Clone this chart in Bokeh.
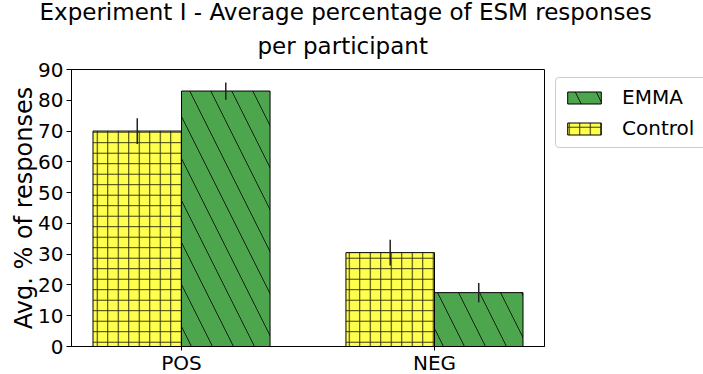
from bokeh.plotting import figure
from bokeh.layouts import row
from bokeh.models import Range1d, FixedTicker, Legend, LegendItem, Title, ColumnDataSource, Spacer
from bokeh.embed import file_html
from bokeh.resources import INLINE

categories = ["POS", "NEG"]
control_vals = [70.0, 30.5]
control_err = [4.2, 4.2]
emma_vals = [83.0, 17.5]
emma_err = [2.8, 3.1]
y_ticks = [0, 10, 20, 30, 40, 50, 60, 70, 80, 90]

bar_w = 0.35
FONT = "DejaVu Sans"

idx = list(range(len(categories)))
x_ctrl = [i - bar_w / 2 for i in idx]
x_emma = [i + bar_w / 2 for i in idx]

src_c = ColumnDataSource(dict(x=x_ctrl, top=control_vals,
                              lo=[v - e for v, e in zip(control_vals, control_err)],
                              hi=[v + e for v, e in zip(control_vals, control_err)]))
src_e = ColumnDataSource(dict(x=x_emma, top=emma_vals,
                              lo=[v - e for v, e in zip(emma_vals, emma_err)],
                              hi=[v + e for v, e in zip(emma_vals, emma_err)]))

p = figure(output_backend="svg", toolbar_location=None,
           x_range=Range1d(-0.435, 1.435), y_range=Range1d(0, 90),
           min_border_left=0, min_border_right=0, min_border_top=0, min_border_bottom=0)
p.frame_width = 473
p.frame_height = 277
p.title = None

rc = p.vbar(x="x", top="top", width=bar_w, bottom=0, source=src_c,
            fill_color="#ffff4d", line_color="black", line_width=1,
            hatch_pattern="+", hatch_color="black", hatch_scale=10.5, hatch_weight=1, hatch_alpha=0.8)
re = p.vbar(x="x", top="top", width=bar_w, bottom=0, source=src_e,
            fill_color="#4da64d", line_color="black", line_width=1,
            hatch_pattern="\\", hatch_color="black", hatch_scale=42, hatch_weight=1, hatch_alpha=0.8)
p.segment(x0="x", y0="lo", x1="x", y1="hi", source=src_c, line_color="#222222", line_width=1.5)
p.segment(x0="x", y0="lo", x1="x", y1="hi", source=src_e, line_color="#222222", line_width=1.5)

p.xgrid.visible = False
p.ygrid.visible = False
p.outline_line_color = "black"
p.outline_line_width = 1

p.xaxis.ticker = FixedTicker(ticks=idx)
p.xaxis.major_label_overrides = {i: c for i, c in zip(idx, categories)}
p.yaxis.ticker = FixedTicker(ticks=y_ticks)
for ax in (p.xaxis[0], p.yaxis[0]):
    ax.major_label_text_font = FONT
    ax.major_label_text_font_size = "20px"
    ax.major_label_text_color = "black"
    ax.major_tick_out = 5
    ax.major_tick_in = 0
    ax.minor_tick_out = 0
    ax.minor_tick_in = 0
    ax.axis_line_color = "black"
    ax.major_tick_line_color = "black"
p.xaxis.major_label_standoff = 0
p.xaxis.major_tick_out = 4
p.yaxis.major_label_standoff = 3
p.yaxis.axis_label = "Avg. % of responses"
p.yaxis.axis_label_text_font = FONT
p.yaxis.axis_label_text_font_size = "24px"
p.yaxis.axis_label_text_font_style = "normal"
p.yaxis.axis_label_text_color = "black"
p.yaxis.axis_label_standoff = -3

t2 = Title(text="per participant", align="left", offset=186, text_font=FONT,
           text_font_size="23px", text_font_style="normal", text_color="black",
           text_line_height=0.8, standoff=21)
t1 = Title(text="Experiment I - Average percentage of ESM responses", align="left",
           offset=-32, text_font=FONT, text_font_size="23px", text_font_style="normal",
           text_color="black", text_line_height=0.8, standoff=-8)
p.add_layout(t2, "above")
p.add_layout(t1, "above")

legend = Legend(items=[LegendItem(label="EMMA", renderers=[re]),
                       LegendItem(label="Control", renderers=[rc])],
                location=(11, 198), margin=0, padding=7, spacing=7,
                glyph_width=42, glyph_height=15, label_standoff=17, label_width=86,
                label_text_font=FONT, label_text_font_size="20px",
                label_text_color="black",
                border_line_color="#cccccc", border_line_alpha=1,
                border_radius=4)
p.add_layout(legend, "right")

layout = row(Spacer(width=7, height=10), p)
open("out.html", "w").write(file_html(layout, INLINE))
